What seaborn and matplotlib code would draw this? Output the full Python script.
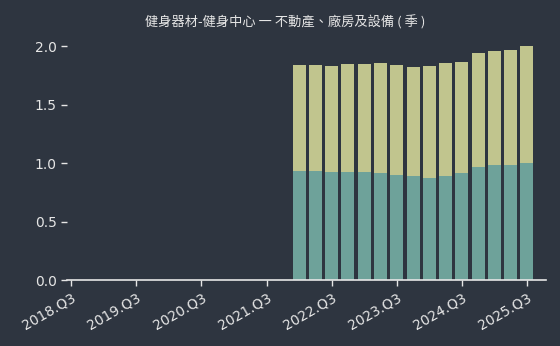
import matplotlib
matplotlib.use('Agg')
import matplotlib.pyplot as plt
import seaborn as sns
import pandas as pd

# ── Data ──────────────────────────────────────────────────────
quarters = [f'{y}.Q{q}' for y in range(2018, 2026) for q in range(1, 5)]
quarters = quarters[quarters.index('2018.Q3'):quarters.index('2025.Q3') + 1]

bar_quarters = ['2022.Q1', '2022.Q2', '2022.Q3', '2022.Q4',
                '2023.Q1', '2023.Q2', '2023.Q3', '2023.Q4',
                '2024.Q1', '2024.Q2', '2024.Q3', '2024.Q4',
                '2025.Q1', '2025.Q2', '2025.Q3']
totals = [1.84, 1.84, 1.83, 1.85, 1.845, 1.86, 1.84, 1.82,
          1.83, 1.86, 1.87, 1.94, 1.96, 1.97, 2.00]
bottom = [0.935, 0.935, 0.927, 0.927, 0.927, 0.918, 0.90, 0.893,
          0.876, 0.893, 0.918, 0.97, 0.987, 0.987, 1.004]

tick_labels = quarters[::4]

BG = '#2e3540'
FG = '#e6e6e6'
TEAL = '#6ea29a'
OLIVE = '#c1c58e'

df = pd.DataFrame({'quarter': bar_quarters, 'total': totals, 'bottom': bottom})

sns.set_style('dark')
plt.rcParams['font.family'] = ['DejaVu Sans', 'Noto Sans CJK TC']

fig = plt.figure(figsize=(5.6, 3.46), dpi=100, facecolor=BG)
ax = fig.add_axes([0.12, 0.19, 0.855, 0.71])
ax.set_facecolor(BG)

sns.barplot(data=df, x='quarter', y='total', order=quarters,
            color=OLIVE, saturation=1, width=0.8, linewidth=0, ax=ax)
sns.barplot(data=df, x='quarter', y='bottom', order=quarters,
            color=TEAL, saturation=1, width=0.8, linewidth=0, ax=ax)

ax.set_xlim(-0.25, len(quarters) - 1 + 1.17)
ax.set_ylim(0, 2.1)
ax.set_yticks([0, 0.5, 1.0, 1.5, 2.0])
ax.set_xticks(range(0, len(quarters), 4))
ax.set_xticklabels(tick_labels, rotation=30, ha='right', rotation_mode='anchor')
ax.set_xlabel('')
ax.set_ylabel('')
ax.grid(False)

for s in ['left', 'right', 'top']:
    ax.spines[s].set_visible(False)
ax.spines['bottom'].set_color(FG)
ax.spines['bottom'].set_linewidth(1.2)
ax.tick_params(axis='both', colors=FG, labelcolor=FG, labelsize=10,
               length=4, width=1, bottom=True, left=True)

fig.text(0.51, 0.935, '健身器材-健身中心 一 不動產、廠房及設備 ( 季 )',
         ha='center', va='center', color=FG, fontsize=9.5,
         family=['Noto Sans CJK TC', 'DejaVu Sans'])

fig.savefig('out.png', dpi=100, facecolor=BG)
